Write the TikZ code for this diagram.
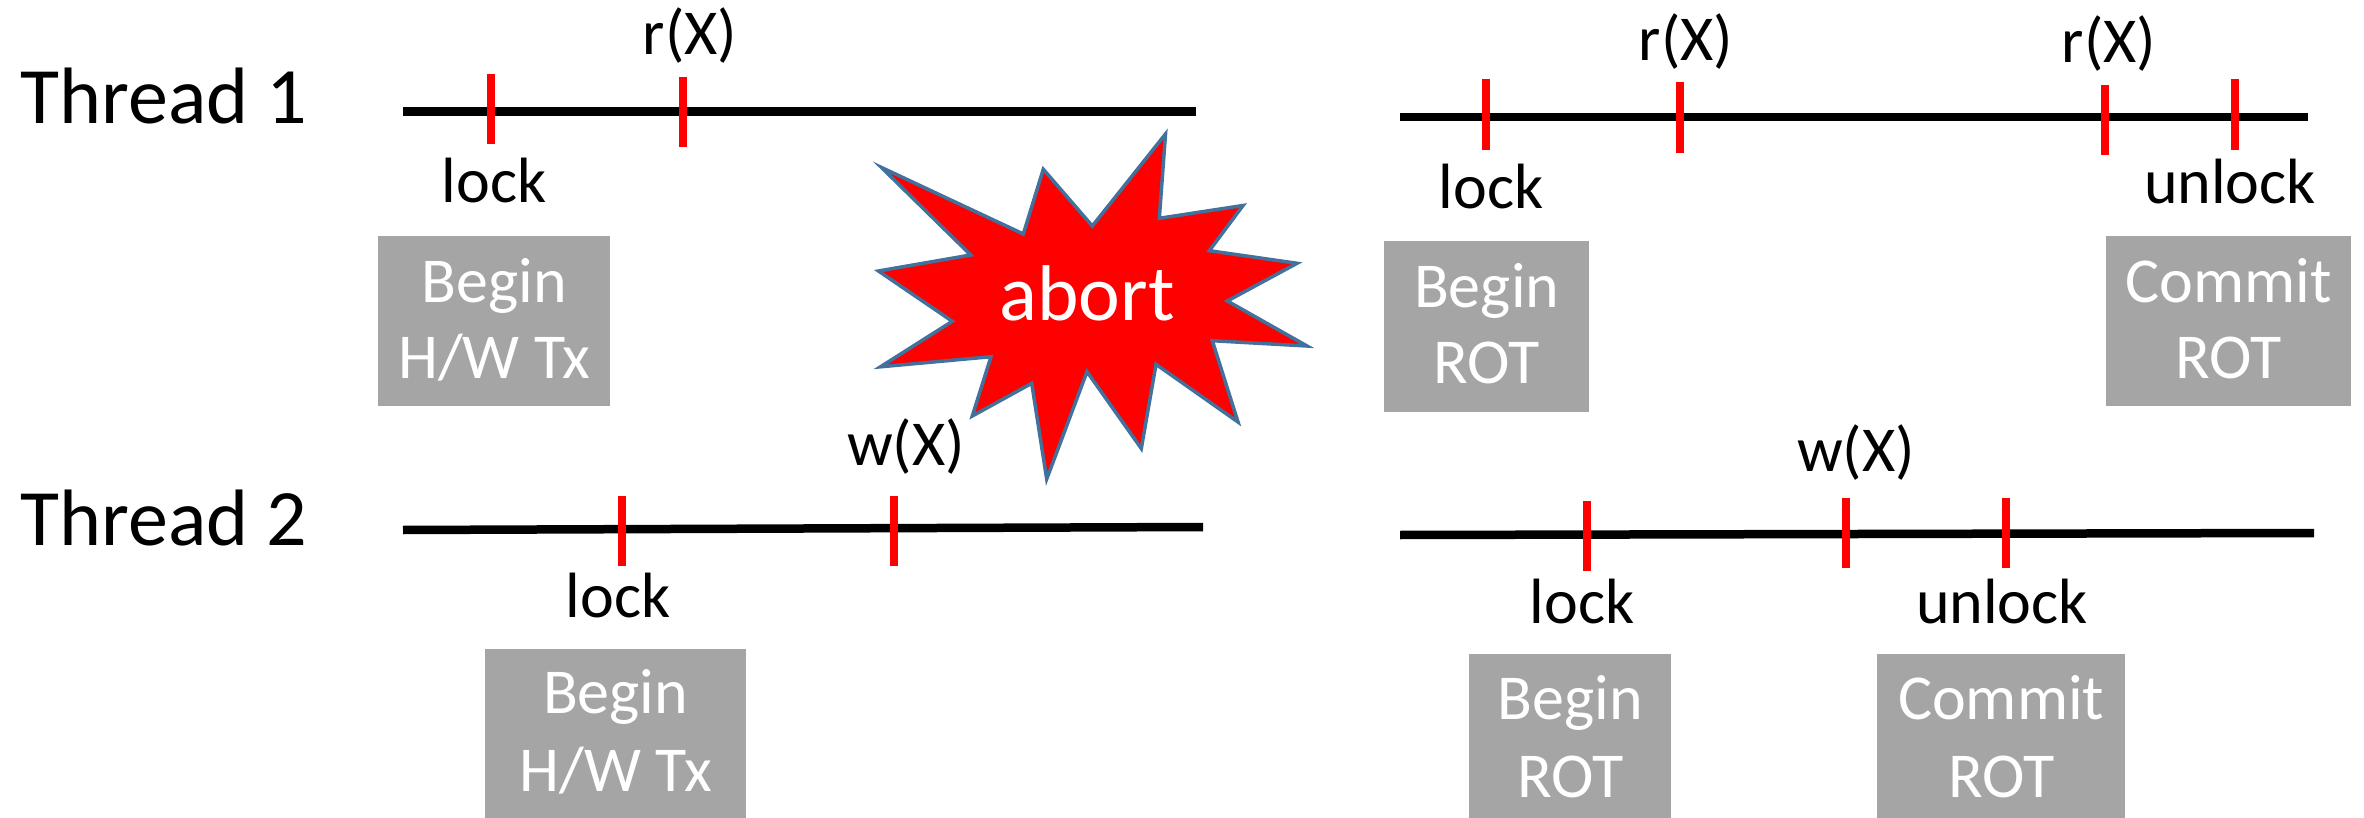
\documentclass[tikz,border=0pt]{standalone}
\usepackage{fontspec}
\setmainfont{Carlito}
\definecolor{boxgray}{HTML}{A5A5A5}
\definecolor{starblue}{HTML}{41719C}
\newcommand{\twolines}[4]{\rule{0pt}{#1pt}#3\\\rule[-12pt]{0pt}{12pt}#4}
\tikzset{
  x=1pt,y=-1pt,
  timeline/.style={draw=black,line width=8.5pt},
  tick/.style={draw=red,line width=8pt},
  thread/.style={anchor=base,inner sep=0pt,font=\fontsize{80}{80}\selectfont},
  event/.style={anchor=base,inner sep=0pt,font=\fontsize{64}{64}\selectfont},
  graybox/.style={fill=boxgray,draw=none,inner sep=0pt,text=white,align=center,anchor=north west,font=\fontsize{64}{76}\selectfont},
  graybox2/.style={graybox,font=\fontsize{64}{78}\selectfont},
  burst/.style={fill=red,draw=starblue,line width=3.5pt,miter limit=20,line join=miter},
}
\newcommand{\tbox}[7][graybox]{\node[#1,minimum width=#4-#2,minimum height=#5-#3] (#6) at (#2,#3) {#7};}
\begin{document}
\begin{tikzpicture}
\useasboundingbox (0,0) rectangle (2364,818);
% timelines
\coordinate (a1) at (403,111.5); \coordinate (a2) at (1196,111.5);
\coordinate (b1) at (1400,117); \coordinate (b2) at (2308,117);
\coordinate (c1) at (403,530); \coordinate (c2) at (1203,527);
\coordinate (d1) at (1400,535); \coordinate (d2) at (2314,533);
\draw[timeline] (a1) -- (a2);
\draw[timeline] (b1) -- (b2);
\draw[timeline] (c1) -- (c2);
\draw[timeline] (d1) -- (d2);
% ticks
\foreach \n/\x/\ya/\yb in {t1/491/74/144,t2/683/77/147,t3/1486/79/150,t4/1680/82/153,t5/2105/85/155,t6/2235/79/150,t7/622/496/566,t8/894/496/566,t9/1587/501/571,t10/1846/498/568,t11/2006/498/568}{
  \coordinate (\n a) at (\x,\ya); \coordinate (\n b) at (\x,\yb);
  \draw[tick] (\n a) -- (\n b);
}
% thread labels
\node[thread] (th1) at (164,124) {Thread 1};
\node[thread] (th2) at (164,545) {Thread 2};
% event labels
\node[event] (l1) at (494,203) {lock};
\node[event] (r1) at (690,55) {r(X)};
\node[event] (l2) at (1491,209) {lock};
\node[event] (r2) at (1686,61) {r(X)};
\node[event] (r3) at (2109,63) {r(X)};
\node[event] (u1) at (2230,204) {unlock};
\node[event] (w1) at (906,465) {w(X)};
\node[event] (l3) at (618,617) {lock};
\node[event] (w2) at (1856,471) {w(X)};
\node[event] (l4) at (1582,623) {lock};
\node[event] (u2) at (2002,623) {unlock};
% boxes
\tbox{378}{236}{610}{406}{bx1}{\twolines{50}{76}{Begin}{H/W Tx}}
\tbox{1384}{241}{1589}{412}{bx2}{\twolines{50}{76}{Begin}{ROT}}
\tbox{2106}{236}{2351}{406}{bx3}{\twolines{50}{76}{Commit}{ROT}}
\tbox[graybox2]{485}{649}{746}{818}{bx4}{\twolines{50}{78}{Begin}{H/W Tx}}
\tbox[graybox2]{1469}{654}{1671}{818}{bx5}{\twolines{56}{78}{Begin}{ROT}}
\tbox[graybox2]{1877}{654}{2125}{818}{bx6}{\twolines{56}{78}{Commit}{ROT}}
% burst
\draw[burst] (881.5,167.5) -- (1023.3,234) -- (1043.3,169.3) -- (1092.3,226) -- (1165.5,134) -- (1159.3,218.3) -- (1243,205.5) -- (1209.3,250.7) -- (1297,263.3) -- (1227.3,301) -- (1307,346) -- (1212.3,340.7) -- (1238,422) -- (1156,364.3) -- (1141.3,448.5) -- (1087,371.7) -- (1046.7,479) -- (1031.7,383.3) -- (972.3,416) -- (991,356.7) -- (880.5,366.8) -- (952.3,321.3) -- (878.5,271) -- (970.7,255) -- cycle;
\node[anchor=base,inner sep=0pt,text=white,font=\fontsize{79}{79}\selectfont] (ab) at (1087,320) {abort};
\end{tikzpicture}
\end{document}
